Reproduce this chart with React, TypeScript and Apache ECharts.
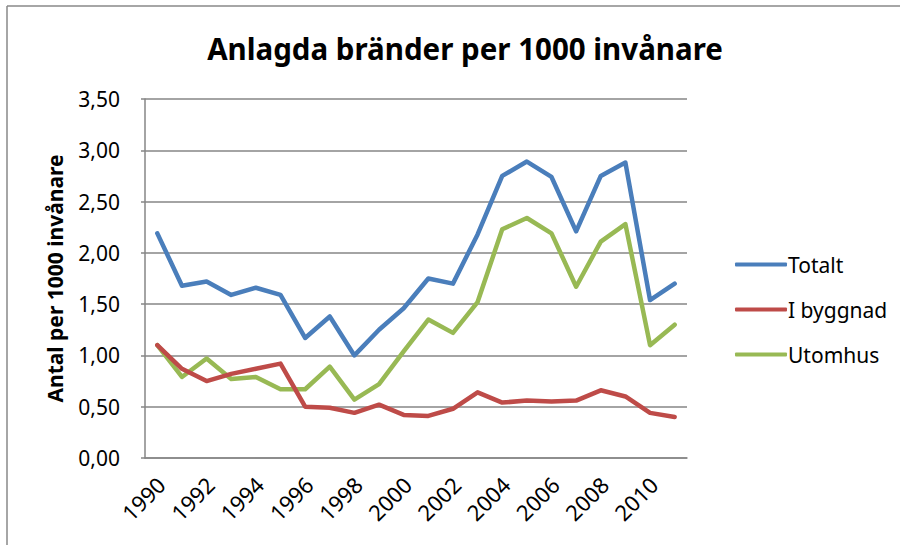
import React, { useEffect, useRef } from "react";
import * as echarts from "echarts";

const years = ["1990","1991","1992","1993","1994","1995","1996","1997","1998","1999","2000","2001","2002","2003","2004","2005","2006","2007","2008","2009","2010","2011"];
const totalt = [2.19,1.68,1.72,1.59,1.66,1.59,1.17,1.38,1.00,1.25,1.46,1.75,1.70,2.18,2.75,2.89,2.74,2.21,2.75,2.88,1.54,1.70];
const iByggnad = [1.10,0.87,0.75,0.82,0.87,0.92,0.50,0.49,0.44,0.52,0.42,0.41,0.48,0.64,0.54,0.56,0.55,0.56,0.66,0.60,0.44,0.40];
const utomhus = [1.10,0.79,0.97,0.77,0.79,0.67,0.67,0.89,0.57,0.72,1.04,1.35,1.22,1.52,2.23,2.34,2.19,1.67,2.11,2.28,1.10,1.30];

const seriesNames = ["Totalt", "I byggnad", "Utomhus"];
const colors = ["#4A7EBB", "#BE4B48", "#98B954"];
const FONT = "'Noto Sans', 'DejaVu Sans', sans-serif";

export default function App() {
  const ref = useRef<HTMLDivElement>(null);
  useEffect(() => {
    if (!ref.current) return;
    const chart = echarts.init(ref.current, null, { renderer: "svg" });
    const data = [totalt, iByggnad, utomhus];
    chart.setOption({
      animation: false,
      backgroundColor: "#fff",
      title: {
        text: "Anlagda bränder per 1000 invånare",
        left: 460,
        top: 28,
        textAlign: "center",
        textStyle: { fontFamily: FONT, fontSize: 29.5, fontWeight: "bold", color: "#000" },
      },
      graphic: [
        { type: "line", shape: { x1: 7, y1: 6, x2: 7, y2: 545 }, style: { stroke: "#888", lineWidth: 1.5 } },
        { type: "line", shape: { x1: 7, y1: 6, x2: 900, y2: 6 }, style: { stroke: "#888", lineWidth: 1.5 } },
      ],
      legend: {
        orient: "vertical",
        left: 730,
        top: 249,
        itemWidth: 52,
        itemHeight: 4,
        itemGap: 24,
        icon: "roundRect",
        textStyle: { fontFamily: FONT, fontSize: 21, color: "#000", padding: [0, 0, 0, -4] },
        data: seriesNames,
      },
      grid: { left: 145, top: 99, right: 213, bottom: 87 },
      xAxis: {
        type: "category",
        data: years,
        boundaryGap: true,
        axisLine: { lineStyle: { color: "#868686", width: 1.5 } },
        axisTick: { show: false },
        axisLabel: {
          interval: (i: number) => i % 2 === 0,
          showMinLabel: true,
          showMaxLabel: true,
          rotate: 45,
          margin: 19,
          verticalAlign: "top",
          lineHeight: 10,
          fontFamily: FONT,
          fontSize: 22,
          color: "#000",
        },
      },
      yAxis: {
        type: "value",
        min: 0,
        max: 3.5,
        interval: 0.5,
        name: "Antal per 1000 invånare",
        nameLocation: "middle",
        nameGap: 80,
        nameTextStyle: { fontFamily: FONT, fontSize: 21, fontWeight: "bold", color: "#000" },
        axisLine: { show: true, lineStyle: { color: "#868686", width: 1.5 } },
        axisTick: { show: true, length: 4, lineStyle: { color: "#868686", width: 1.5 } },
        splitLine: { lineStyle: { color: "#868686", width: 1.5 } },
        axisLabel: {
          margin: 25,
          fontFamily: FONT,
          fontSize: 21,
          color: "#000",
          formatter: (v: number) => v.toFixed(2).replace(".", ","),
        },
      },
      series: seriesNames.map((name, i) => ({
        name,
        type: "line",
        data: data[i],
        symbol: "none",
        lineStyle: { color: colors[i], width: 4.5, cap: "round", join: "round" },
        itemStyle: { color: colors[i] },
        z: 3 - i,
      })),
    });
    return () => chart.dispose();
  }, []);
  return <div ref={ref} style={{ width: 900, height: 545, position: "absolute", left: 0, top: 0 }} />;
}
